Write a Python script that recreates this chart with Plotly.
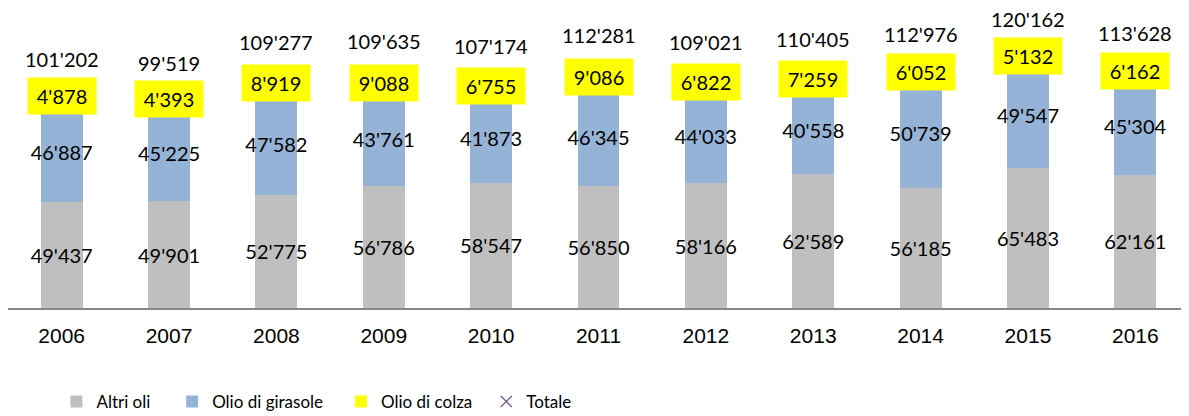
import plotly.graph_objects as go

years = ["2006", "2007", "2008", "2009", "2010", "2011", "2012", "2013", "2014", "2015", "2016"]
altri_oli = [49437, 49901, 52775, 56786, 58547, 56850, 58166, 62589, 56185, 65483, 62161]
olio_girasole = [46887, 45225, 47582, 43761, 41873, 46345, 44033, 40558, 50739, 49547, 45304]
olio_colza = [4878, 4393, 8919, 9088, 6755, 9086, 6822, 7259, 6052, 5132, 6162]
totale = [101202, 99519, 109277, 109635, 107174, 112281, 109021, 110405, 112976, 120162, 113628]

xpos = list(range(len(years)))


def fmt(v):
    return f"{v:,}".replace(",", "'")


LABEL_FONT = dict(family="Lato, Carlito, sans-serif", size=20, color="black")
LEGEND_FONT = dict(family="Lato, Carlito, sans-serif", size=17, color="black")

fig = go.Figure()
fig.add_trace(go.Bar(
    name="Altri oli", x=xpos, y=altri_oli, marker=dict(color="#BFBFBF", line=dict(width=0)),
    text=[fmt(v) for v in altri_oli], textposition="inside", insidetextanchor="middle",
    textangle=0, constraintext="none", textfont=LABEL_FONT, legend="legend",
))
fig.add_trace(go.Bar(
    name="Olio di girasole", x=xpos, y=olio_girasole, marker=dict(color="#95B3D7", line=dict(width=0)),
    text=[fmt(v) for v in olio_girasole], textposition="inside", insidetextanchor="middle",
    textangle=0, constraintext="none", textfont=LABEL_FONT, legend="legend2",
))
fig.add_trace(go.Bar(
    name="Olio di colza", x=xpos, y=olio_colza, marker=dict(color="#FFFF00", line=dict(width=0)),
    legend="legend3",
))
fig.add_trace(go.Scatter(
    name="Totale", x=xpos, y=totale, mode="markers",
    marker=dict(symbol="x-thin", size=11, line=dict(width=1.5, color="#7F63A1"), color="#7F63A1"),
    legend="legend4",
))

annotations = []
for i in xpos:
    base = altri_oli[i] + olio_girasole[i]
    annotations.append(dict(
        x=i, y=base + olio_colza[i] / 2, xref="x", yref="y", text=fmt(olio_colza[i]),
        showarrow=False, bgcolor="#FFFF00", width=66, height=34, borderpad=1, font=LABEL_FONT,
    ))
    annotations.append(dict(
        x=i, y=totale[i], xref="x", yref="y", text=fmt(totale[i]), yshift=32,
        showarrow=False, font=LABEL_FONT,
    ))


def leg(x):
    return dict(orientation="h", x=x, y=-0.313, xanchor="left", yanchor="middle",
                font=LEGEND_FONT, itemwidth=30, bgcolor="rgba(0,0,0,0)")


fig.update_layout(
    barmode="stack",
    bargap=0.61,
    width=1181, height=408,
    margin=dict(l=0, r=0, t=0, b=108, autoexpand=False),
    plot_bgcolor="white", paper_bgcolor="white",
    showlegend=True,
    legend=leg(0.041),
    legend2=leg(0.139),
    legend3=leg(0.282),
    legend4=leg(0.405),
    annotations=annotations,
    xaxis=dict(
        range=[-0.5, len(years) - 0.5], automargin=False,
        tickmode="array", tickvals=xpos, ticktext=years,
        showline=True, linecolor="#868686", linewidth=1.5, ticks="", showgrid=False,
        tickfont=dict(family="Liberation Sans, Arial, sans-serif", size=21, color="black"),
        ticklabelstandoff=8,
    ),
    yaxis=dict(range=[0, 140000], visible=False, showgrid=False, zeroline=False, automargin=False),
)

fig.write_html("out.html")
